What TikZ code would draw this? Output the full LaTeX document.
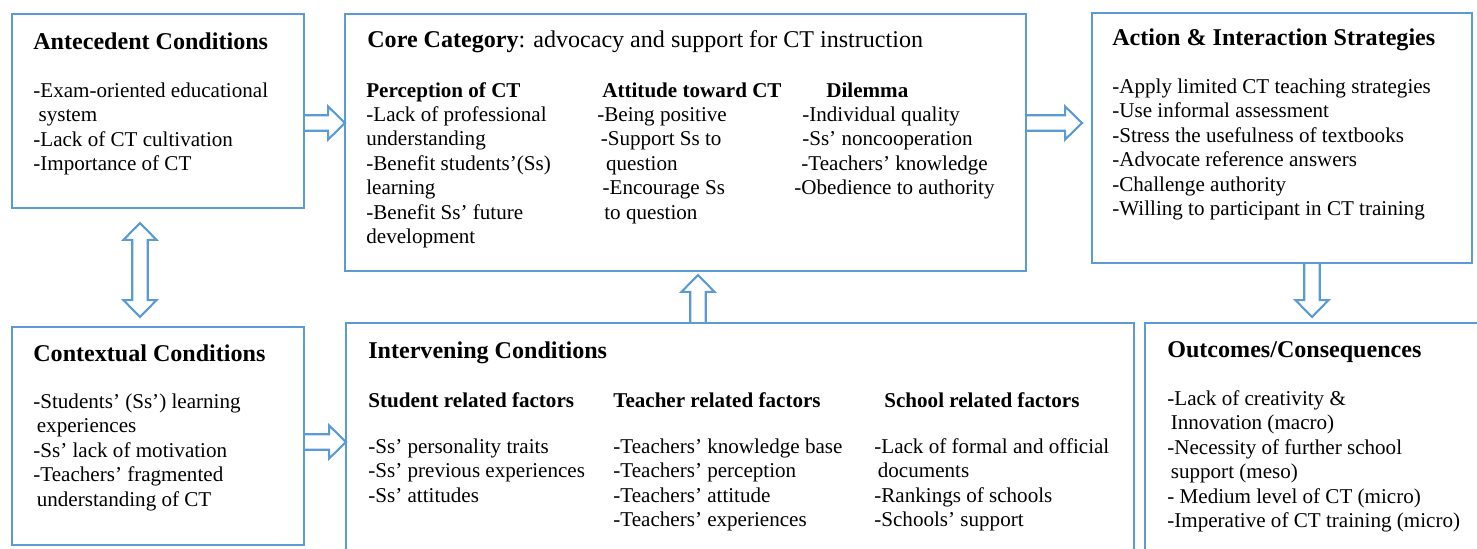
\documentclass[tikz,border=0pt]{standalone}
\usepackage{fontspec}
\setmainfont{Liberation Serif}
\usepackage{tikz}
\usetikzlibrary{calc}
\definecolor{boxblue}{RGB}{91,155,213}
\newcommand{\shaftw}{4.4pt}
\newcommand{\headw}{9.4pt}
\newcommand{\headl}{9.6pt}

\begin{document}
\begin{tikzpicture}[x=0.02cm, y=-0.02cm,
    box/.style={draw=boxblue, line width=1.2pt, anchor=north west, inner sep=0pt, outer sep=0pt},
    head/.style={anchor=base west, inner sep=0pt, font=\fontsize{13.7}{16}\selectfont\bfseries},
    sub/.style={anchor=base west, inner sep=0pt, font=\fontsize{12}{13.9}\selectfont\bfseries},
    list/.style={anchor=north west, inner sep=0pt, align=left, font=\fontsize{12}{13.9}\selectfont},
    hollow/.style={draw=boxblue, line width=1.2pt, line join=miter},
    toright/.style={to path={let \p1=(\tikztostart), \p2=(\tikztotarget) in
        (\x1,\y1+\shaftw) -- (\x2-\headl,\y1+\shaftw) -- (\x2-\headl,\y1+\headw) -- (\x2,\y1)
        -- (\x2-\headl,\y1-\headw) -- (\x2-\headl,\y1-\shaftw) -- (\x1,\y1-\shaftw)}},
    todown/.style={to path={let \p1=(\tikztostart), \p2=(\tikztotarget) in
        (\x1-\shaftw,\y1) -- (\x1-\shaftw,\y2+\headl) -- (\x1-\headw,\y2+\headl) -- (\x1,\y2)
        -- (\x1+\headw,\y2+\headl) -- (\x1+\shaftw,\y2+\headl) -- (\x1+\shaftw,\y1)}},
    toup/.style={to path={let \p1=(\tikztostart), \p2=(\tikztotarget) in
        (\x1-\shaftw,\y1) -- (\x1-\shaftw,\y2-\headl) -- (\x1-\headw,\y2-\headl) -- (\x1,\y2)
        -- (\x1+\headw,\y2-\headl) -- (\x1+\shaftw,\y2-\headl) -- (\x1+\shaftw,\y1)}},
    toboth/.style={to path={let \p1=(\tikztostart), \p2=(\tikztotarget) in
        (\x1-\shaftw,\y1-\headl) -- (\x1-\headw,\y1-\headl) -- (\x1,\y1) -- (\x1+\headw,\y1-\headl)
        -- (\x1+\shaftw,\y1-\headl) -- (\x1+\shaftw,\y2+\headl) -- (\x1+\headw,\y2+\headl) -- (\x1,\y2)
        -- (\x1-\headw,\y2+\headl) -- (\x1-\shaftw,\y2+\headl) -- cycle}}]

    \useasboundingbox (0,0) rectangle (1477,548);
    \clip (0,0) rectangle (1477,548);

    % Boxes
    \node[box, minimum width=5.84cm, minimum height=3.88cm] (ante) at (12,14) {};
    \node[box, minimum width=13.62cm, minimum height=5.14cm] (core) at (345,14) {};
    \node[box, minimum width=7.6cm, minimum height=5cm] (action) at (1092,13) {};
    \node[box, minimum width=5.84cm, minimum height=4.36cm] (context) at (12,327) {};
    \node[box, minimum width=15.76cm, minimum height=4.8cm] (interv) at (346,323) {};
    \node[box, minimum width=6.9cm, minimum height=4.8cm] (outcome) at (1145,323) {};

    % Antecedent conditions
    \node[head] (anteh) at (33,49) {Antecedent Conditions};
    \node[list] (antel) at (33,80) {\strut-Exam-oriented educational\\\hspace*{3pt}system\\-Lack of CT cultivation\\-Importance of CT};

    % Core category, three columns
    \node[head] (coreh) at (367,47) {Core Category\mdseries: advocacy and support for CT instruction};
    \node[sub] (perh) at (366,97) {Perception of CT};
    \node[sub] (atth) at (602,97) {Attitude toward CT};
    \node[sub] (dilh) at (826,97) {Dilemma};
    \node[list] (perl) at (366,104) {\strut-Lack of professional\\understanding\\-Benefit students'(Ss)\\learning\\-Benefit Ss' future\\development};
    \node[list] (attl) at (597,104) {\strut-Being positive\\\hspace*{2pt}-Support Ss to\\\hspace*{5pt}question\\\hspace*{3pt}-Encourage Ss\\\hspace*{4pt}to question};
    \node[list] (dill) at (794,104) {\strut\hspace*{4.5pt}-Individual quality\\\hspace*{4.5pt}-Ss' noncooperation\\\hspace*{4pt}-Teachers' knowledge\\-Obedience to authority};

    % Action & interaction
    \node[head] (actionh) at (1112,45) {Action \& Interaction Strategies};
    \node[list] (actionl) at (1112,76) {\strut-Apply limited CT teaching strategies\\-Use informal assessment\\-Stress the usefulness of textbooks\\-Advocate reference answers\\-Challenge authority\\-Willing to participant in CT training};

    % Contextual conditions
    \node[head] (contexth) at (33,361) {Contextual Conditions};
    \node[list] (contextl) at (33,391) {\strut-Students' (Ss') learning\\\hspace*{2pt}experiences\\-Ss' lack of motivation\\-Teachers' fragmented\\\hspace*{2pt}understanding of CT};

    % Intervening conditions
    \node[head] (intervh) at (368,358) {Intervening Conditions};
    \node[sub] (stuh) at (368,407) {Student related factors};
    \node[sub] (teah) at (613,407) {Teacher related factors};
    \node[sub] (schh) at (884,407) {School related factors};
    \node[list] (stul) at (368,436) {\strut-Ss' personality traits\\-Ss' previous experiences\\-Ss' attitudes};
    \node[list] (teal) at (613,436) {\strut-Teachers' knowledge base\\-Teachers' perception\\-Teachers' attitude\\-Teachers' experiences};
    \node[list] (schl) at (874,436) {\strut-Lack of formal and official\\\hspace*{2pt}documents\\-Rankings of schools\\-Schools' support};

    % Outcomes
    \node[head] (outcomeh) at (1167,357) {Outcomes/Consequences};
    \node[list] (outcomel) at (1167,388) {\strut-Lack of creativity \&\\\hspace*{2pt}Innovation (macro)\\-Necessity of further school\\\hspace*{2pt}support (meso)\\- Medium level of CT (micro)\\-Imperative of CT training (micro)};

    % Hollow arrows
    \coordinate (tipa) at (1082,123);
    \coordinate (tipo) at (1312,317);
    \coordinate (tipc) at (698,275);
    \coordinate (dtop) at (140,223);
    \coordinate (dbot) at (140,317);

    \draw[hollow] (ante.east |- 0,123) to[toright] (core.west |- 0,123);
    \draw[hollow] (core.east |- 0,123) to[toright] (tipa);
    \draw[hollow] (context.east |- 0,442) to[toright] (interv.west |- 0,442);
    \draw[hollow] (action.south -| 1312,0) to[todown] (tipo);
    \draw[hollow] (interv.north -| 698,0) to[toup] (tipc);
    \draw[hollow] (dtop) to[toboth] (dbot);
\end{tikzpicture}
\end{document}
